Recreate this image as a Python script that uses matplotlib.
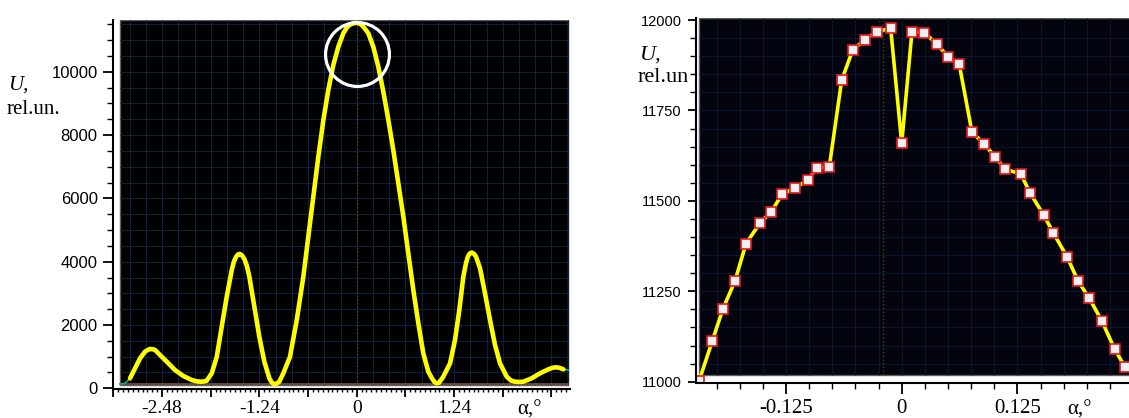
import numpy as np
import matplotlib
matplotlib.use('Agg')
import matplotlib.pyplot as plt
from matplotlib.patches import Rectangle
from matplotlib.ticker import FixedLocator, MultipleLocator

# left panel: full pattern, U vs alpha
left_x = [-2.888, -2.824, -2.760, -2.697, -2.660, -2.633, -2.600, -2.569, -2.506, -2.420,
          -2.315, -2.209, -2.102, -2.040, -1.996, -1.950, -1.911, -1.847, -1.783, -1.720,
          -1.656, -1.592, -1.565, -1.538, -1.512, -1.487, -1.460, -1.432, -1.400, -1.368,
          -1.304, -1.241, -1.177, -1.113, -1.080, -1.054, -1.025, -0.986, -0.935, -0.850,
          -0.764, -0.680, -0.617, -0.553, -0.489, -0.425, -0.362, -0.298, -0.234, -0.171,
          -0.120, -0.085, -0.040, 0.0, 0.030, 0.064, 0.105, 0.148, 0.211, 0.275,
          0.339, 0.403, 0.466, 0.530, 0.594, 0.657, 0.721, 0.785, 0.848, 0.912,
          0.955, 0.990, 1.019, 1.050, 1.103, 1.189, 1.252, 1.307, 1.358, 1.390,
          1.414, 1.440, 1.465, 1.492, 1.520, 1.571, 1.634, 1.698, 1.762, 1.825,
          1.911, 1.965, 2.017, 2.070, 2.122, 2.229, 2.335, 2.441, 2.490, 2.526,
          2.580, 2.632]
left_u = [316, 632, 948, 1157, 1215, 1242, 1236, 1210, 1052, 841,
          578, 389, 262, 222, 209, 214, 240, 474, 998, 1946,
          2894, 3738, 4000, 4150, 4232, 4245, 4195, 4090, 3870, 3526,
          2578, 1630, 841, 316, 175, 136, 140, 209, 474, 998,
          2158, 3526, 4790, 6054, 7318, 8477, 9425, 10215, 10793, 11216,
          11420, 11490, 11535, 11545, 11530, 11479, 11360, 11216, 10793, 10161,
          9371, 8477, 7529, 6477, 5422, 4265, 3106, 2054, 1106, 525,
          330, 200, 158, 180, 367, 790, 1526, 2474, 3526, 3930,
          4150, 4260, 4290, 4255, 4158, 3791, 3002, 2158, 1368, 790,
          367, 245, 209, 200, 209, 316, 474, 600, 645, 663,
          650, 600]
# raw trace visible at both ends
raw_x = [-3.01, -2.95, -2.888]
raw_u = [136, 158, 316]
raw_x_end = [2.632, 2.696]
raw_u_end = [600, 578]

left_ticks = [-3.1, -2.48, -1.86, -1.24, -0.62, 0.0, 0.62, 1.24, 1.86, 2.48]
left_labels = ['', '-2.48', '', '-1.24', '', '0', '', '1.24', '', '']

# right panel: zoom of the main peak, markers = measured points
right_x = [-0.2189, -0.2045, -0.1933, -0.1800, -0.1681, -0.1527, -0.1408, -0.1293, -0.1156,
           -0.1012, -0.0911, -0.0782, -0.0648, -0.0529, -0.0400, -0.0270, -0.0119, 0.0000,
           0.0111, 0.0241, 0.0381, 0.0503, 0.0622, 0.0759, 0.0892, 0.1008, 0.1119, 0.1285,
           0.1389, 0.1533, 0.1637, 0.1788, 0.1904, 0.2023, 0.2160, 0.2300, 0.2411]
right_u = [11002, 11113, 11200, 11279, 11382, 11440, 11470, 11518, 11535,
           11558, 11592, 11594, 11834, 11917, 11945, 11968, 11977, 11659,
           11968, 11965, 11934, 11897, 11877, 11690, 11657, 11622, 11587, 11575,
           11521, 11461, 11412, 11344, 11279, 11232, 11169, 11090, 11041]
right_ticks = [-0.125, 0.0, 0.125]
right_labels = ['-0.125', '0', '0.125']

serif = 'Liberation Serif'
sans = 'Liberation Sans'

fig = plt.figure(figsize=(11.29, 4.18), dpi=100)

#################### left
ax1 = fig.add_axes([113 / 1129, 29 / 418, 457 / 1129, 369 / 418])
ax1.set_xlim(-3.105, 2.717)
ax1.set_ylim(-22, 11637)
ax1.set_facecolor('white')
ax1.add_patch(Rectangle((0.0153, 0.0108), 0.9803, 0.9892, transform=ax1.transAxes,
                        fc='black', ec='#606060', lw=1.0, zorder=0.2))
gx = np.arange(-3.1, 2.7, 0.62 / 3)
gx = gx[gx > -3.0]
ax1.vlines(gx, 104, 11637, color='#0a2240', lw=0.8, zorder=0.3)
ax1.hlines(np.arange(500, 11637, 500), -3.015, 2.69, color='#0a2240', lw=0.8, zorder=0.3)
ax1.vlines([0], 104, 11637, color='#4a4a10', lw=1.0, linestyles=':', zorder=0.4)
ax1.plot([0.0153, 0.9956], [0.013, 0.013], transform=ax1.transAxes, color='#7a5040', lw=1.2, zorder=0.4)

ax1.plot(raw_x, raw_u, color='#1aa08a', lw=1.3, zorder=1)
ax1.plot(raw_x_end, raw_u_end, color='#1aa08a', lw=1.3, zorder=1)
ax1.plot(left_x, left_u, color='#ffff00', lw=3.3, solid_capstyle='round',
         solid_joinstyle='round', zorder=2)
# highlighted peak region
ax1.plot([0.0], [10562], marker='o', ms=46, mfc='none', mec='white', mew=2.3, zorder=3)

for s in ['top', 'right']:
    ax1.spines[s].set_visible(False)
for s in ['left', 'bottom']:
    ax1.spines[s].set_linewidth(1.5)
ax1.xaxis.set_major_locator(FixedLocator(left_ticks))
ax1.set_xticklabels(left_labels, fontfamily=serif, fontsize=14)
ax1.xaxis.set_minor_locator(MultipleLocator(0.062))
ax1.yaxis.set_major_locator(FixedLocator([0, 2000, 4000, 6000, 8000, 10000]))
ax1.yaxis.set_minor_locator(MultipleLocator(500))
ax1.set_yticklabels(['0', '2000', '4000', '6000', '8000', '10000'], fontfamily=sans, fontsize=12)
ax1.tick_params(axis='x', which='major', length=6, width=1.3, pad=2)
ax1.tick_params(axis='x', which='minor', length=2.5, width=1.0)
ax1.tick_params(axis='y', which='major', length=7, width=1.3, pad=4)
ax1.tick_params(axis='y', which='minor', length=4, width=1.0)

fig.text(8 / 1129, 1 - 85 / 418, 'U,', family=serif, style='italic', fontsize=15, va='center')
fig.text(7 / 1129, 1 - 110 / 418, 'rel.un.', family=serif, fontsize=15, va='center')
fig.text(529 / 1129, 1 - 410 / 418, 'α,°', family=serif, fontsize=15, ha='center', va='center')

#################### right
ax2 = fig.add_axes([695.7 / 1129, 34.7 / 418, 433.3 / 1129, 365 / 418])
ax2.set_xlim(-0.2225, 0.2455)
ax2.set_ylim(10995.6, 12004.7)
ax2.set_facecolor('white')
ax2.add_patch(Rectangle((0.0076, 0.0227), 1.0, 0.9773, transform=ax2.transAxes,
                        fc='#03040d', ec='#606060', lw=1.0, zorder=0.2))
gx2 = np.arange(-0.2, 0.25, 0.025)
ax2.vlines(gx2, 11018, 12004.7, color='#0a1630', lw=0.8, zorder=0.3)
ax2.hlines(np.arange(11050, 12000, 50), -0.219, 0.2455, color='#0a1630', lw=0.8, zorder=0.3)
ax2.vlines([-0.02], 11018, 12004.7, color='#4a4a10', lw=1.0, linestyles=':', zorder=0.4)

ax2.plot(right_x, right_u, color='#ffff00', lw=2.6, zorder=2, solid_joinstyle='round',
         marker='s', ms=7.5, mfc='#f0f0f0', mec='#e8141e', mew=1.2)

for s in ['top', 'right']:
    ax2.spines[s].set_visible(False)
for s in ['left', 'bottom']:
    ax2.spines[s].set_linewidth(1.5)
ax2.xaxis.set_major_locator(FixedLocator(right_ticks))
ax2.set_xticklabels(right_labels, fontfamily=serif, fontsize=15)
ax2.xaxis.set_minor_locator(MultipleLocator(0.025))
ax2.yaxis.set_major_locator(FixedLocator([11000, 11250, 11500, 11750, 12000]))
ax2.yaxis.set_minor_locator(MultipleLocator(50))
ax2.set_yticklabels(['11000', '11250', '11500', '11750', '12000'], fontfamily=sans, fontsize=10.5)
ax2.tick_params(axis='x', which='major', length=8, width=1.3, pad=3)
ax2.tick_params(axis='x', which='minor', length=4, width=1.0)
ax2.tick_params(axis='y', which='major', length=6, width=1.3, pad=4)
ax2.tick_params(axis='y', which='minor', length=4, width=1.0)

fig.text(640 / 1129, 1 - 55 / 418, 'U,', family=serif, style='italic', fontsize=16, va='center')
fig.text(638 / 1129, 1 - 77 / 418, 'rel.un', family=serif, fontsize=16, va='center')
fig.text(1079 / 1129, 1 - 410 / 418, 'α,°', family=serif, fontsize=15, ha='center', va='center')

fig.savefig('out.png', dpi=100)
